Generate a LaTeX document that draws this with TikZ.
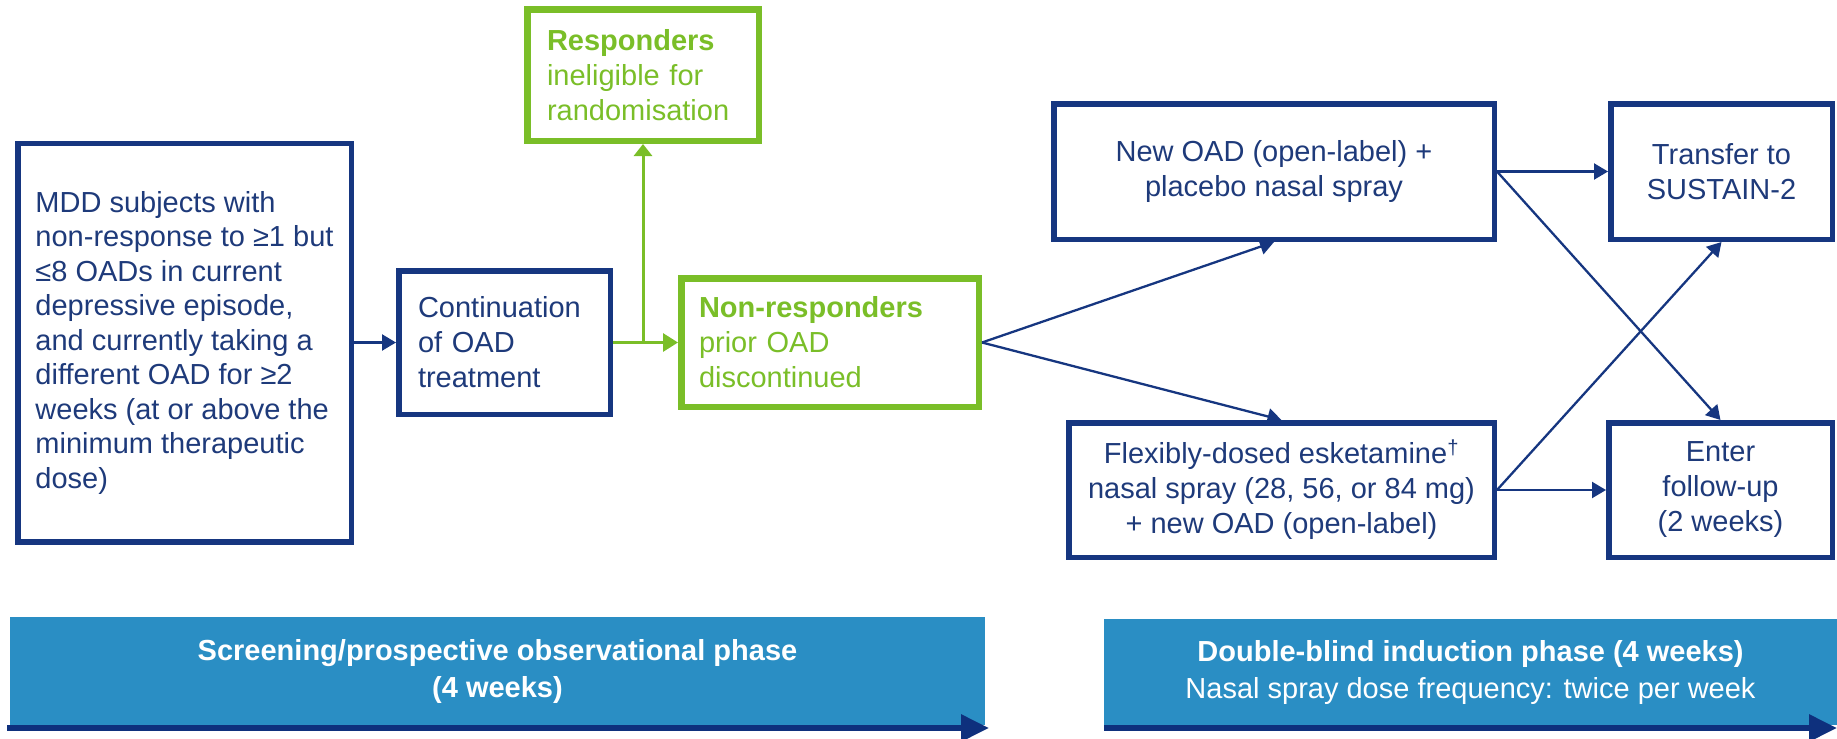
\documentclass[tikz,border=0pt]{standalone}
\usepackage{fontspec}
\setmainfont{Liberation Sans}
\usetikzlibrary{arrows.meta}

\definecolor{navy}{RGB}{22,54,128}
\definecolor{navytext}{RGB}{30,58,122}
\definecolor{lime}{RGB}{122,190,40}
\definecolor{barblue}{RGB}{42,142,196}
\definecolor{bardark}{RGB}{14,48,125}

\newcommand\boxfs{\fontsize{29pt}{35pt}\selectfont}
\newcommand\mddfs{\fontsize{29pt}{34.5pt}\selectfont}
\newcommand\barfs{\fontsize{29pt}{37pt}\selectfont}

\tikzset{
  bluebox/.style={rectangle, draw=navy, line width=5.5pt, text=navytext,
    font=\boxfs, inner sep=0pt},
  greenbox/.style={rectangle, draw=lime, line width=6.5pt, text=lime,
    font=\boxfs, inner sep=0pt},
  % left-aligned text with a given left padding inside the box
  padleft/.style={align=left, execute at begin node={\leftskip=#1\relax}},
  link/.style={draw=navy, line width=2.3pt, -{Triangle[length=14pt,width=16pt]}},
  greenlink/.style={draw=lime, line width=3pt},
  phasebar/.style={rectangle, fill=barblue, text=white, font=\barfs,
    align=center, inner sep=0pt},
  phasearrow/.style={draw=bardark, line width=6pt,
    -{Triangle[length=28pt,width=26pt]}}
}

\begin{document}
\begin{tikzpicture}[x=1pt,y=-1pt]
\useasboundingbox (0,0) rectangle (1837,739);

% screening stage: the left-aligned block sits centred in its frame
\node[bluebox, font=\mddfs, minimum width=333.5pt, minimum height=398.5pt,
      align=left] (mdd) at (184.5,342.5)
  {MDD subjects with\\non-response to ≥1 but\\≤8 OADs in current\\depressive episode,\\and currently taking a\\different OAD for ≥2\\weeks (at or above the\\minimum therapeutic\\dose)};

\node[bluebox, minimum width=211.5pt, minimum height=143.5pt,
      text width=211.5pt, padleft=19.25pt] (cont) at (504.5,342.5)
  {Continuation\\of OAD\\treatment};

\node[greenbox, minimum width=231.5pt, minimum height=131.5pt,
      text width=231.5pt, padleft=19.75pt] (resp) at (643,75)
  {\textbf{Responders}\\ineligible for\\randomisation};

\node[greenbox, minimum width=297.5pt, minimum height=128.5pt,
      text width=297.5pt, padleft=17.75pt] (nr) at (830,342.5)
  {\textbf{Non-responders}\\prior OAD\\discontinued};

% double-blind induction stage
\node[bluebox, minimum width=440.5pt, minimum height=135.5pt, align=center]
  (newoad) at (1274,171.5)
  {New OAD (open-label) +\\placebo nasal spray};

\node[bluebox, minimum width=425.5pt, minimum height=134.5pt, align=center]
  (flex) at (1281.5,490)
  {Flexibly-dosed esketamine\textsuperscript{†}\\nasal spray (28, 56, or 84 mg)\\+ new OAD (open-label)};

\node[bluebox, minimum width=221.5pt, minimum height=135.5pt, align=center]
  (transfer) at (1721.5,171.5)
  {Transfer to\\SUSTAIN-2};

\node[bluebox, minimum width=223.5pt, minimum height=134.5pt, align=center]
  (enter) at (1720.5,490)
  {Enter\\follow-up\\(2 weeks)};

% connectors
\draw[link] (mdd.east) -- (cont.west);
\draw[greenlink, -{Triangle[length=15pt,width=18pt]}] (cont.east) -- (nr.west);
\draw[greenlink, -{Triangle[length=12pt,width=18pt]}] (cont.east -| resp.south) -- (resp.south);
\draw[link] (nr.east) -- (newoad.south);
\draw[link] (nr.east) -- (flex.north);
\draw[link] (newoad.east) -- (transfer.west);
\draw[link] (newoad.east) -- (enter.north);
\draw[link] (flex.east) -- (transfer.south);
\draw[link] (flex.east) -- (enter.west);

% phase bars
\node[phasebar, minimum width=975pt, minimum height=108pt] (phase1) at (497.5,671)
  {\textbf{Screening/prospective observational phase}\\\textbf{(4 weeks)}};
\node[phasebar, minimum width=733pt, minimum height=106pt] (phase2) at (1470.5,672)
  {\textbf{Double-blind induction phase (4 weeks)}\\Nasal spray dose frequency: twice per week};

\coordinate (t1s) at (7,728);
\coordinate (t1e) at (989,728);
\coordinate (t2s) at (1104,728);
\coordinate (t2e) at (1837,728);
\draw[phasearrow] (t1s) -- (t1e);
\draw[phasearrow] (t2s) -- (t2e);
\end{tikzpicture}
\end{document}
